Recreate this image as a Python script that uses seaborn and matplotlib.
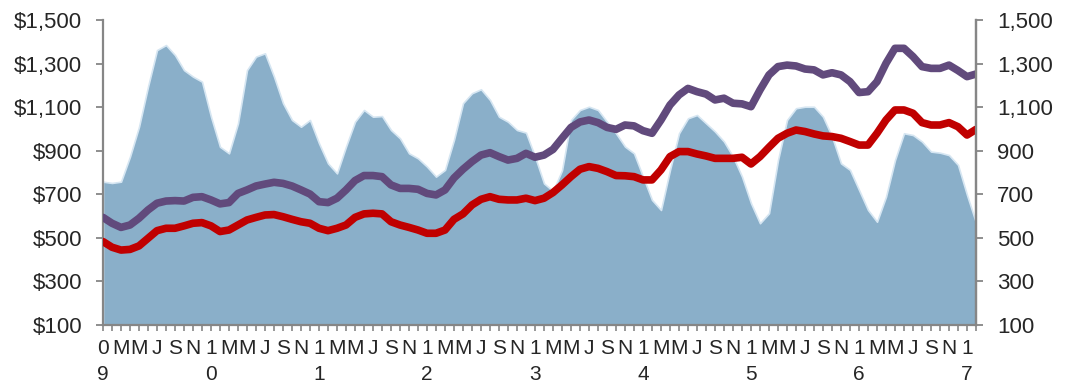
import seaborn as sns
import matplotlib.pyplot as plt
from matplotlib import font_manager
import pandas as pd
import numpy as np

# monthly data, Jan 2009 .. Feb 2017
area_vals = [758, 752, 758, 873, 1010, 1194, 1362, 1385, 1339, 1270, 1240, 1217,
             1056, 918, 888, 1026, 1270, 1332, 1347, 1240, 1118, 1041, 1010, 1041,
             934, 842, 796, 919, 1033, 1087, 1056, 1059, 995, 957, 888, 865,
             827, 781, 812, 950, 1118, 1164, 1182, 1133, 1056, 1033, 995, 983,
             873, 750, 715, 810, 1041, 1087, 1102, 1087, 1033, 980, 919, 888,
             781, 674, 628, 812, 980, 1049, 1064, 1026, 988, 942, 873, 781,
             659, 567, 613, 857, 1041, 1095, 1102, 1102, 1056, 965, 842, 812,
             720, 628, 574, 689, 857, 980, 972, 942, 896, 891, 880, 835,
             697, 570]
purple_vals = [594, 567, 548, 559, 590, 628, 659, 669, 671, 669, 686, 689,
               674, 656, 662, 704, 720, 738, 747, 755, 750, 738, 720, 701,
               666, 662, 682, 720, 763, 786, 786, 781, 743, 727, 727, 723,
               704, 697, 720, 775, 815, 850, 880, 891, 873, 857, 865, 888,
               870, 880, 906, 957, 1007, 1032, 1041, 1029, 1007, 998, 1018, 1014,
               992, 980, 1041, 1110, 1156, 1186, 1171, 1160, 1133, 1141, 1118, 1115,
               1102, 1179, 1248, 1286, 1293, 1289, 1275, 1271, 1248, 1258, 1248, 1217,
               1167, 1171, 1217, 1301, 1370, 1370, 1332, 1286, 1278, 1278, 1293, 1268,
               1240, 1252]
red_vals = [483, 457, 444, 447, 463, 498, 533, 544, 544, 555, 567, 570,
            555, 529, 536, 559, 582, 594, 605, 607, 597, 585, 574, 567,
            544, 533, 544, 559, 594, 610, 613, 610, 574, 559, 548, 536,
            521, 521, 536, 585, 610, 651, 677, 689, 677, 674, 674, 682,
            671, 682, 708, 743, 781, 815, 827, 819, 804, 786, 785, 781,
            766, 766, 812, 873, 896, 896, 885, 876, 865, 865, 865, 870,
            839, 873, 916, 957, 980, 995, 988, 977, 968, 965, 957, 942,
            926, 926, 980, 1041, 1087, 1087, 1072, 1029, 1018, 1018, 1029, 1010,
            972, 998]

years = ["09", "10", "11", "12", "13", "14", "15", "16", "17"]
month_letters = ["M", "M", "J", "S", "N"]
y_ticks = [100, 300, 500, 700, 900, 1100, 1300, 1500]

x_labels = []
for yr in years[:-1]:
    x_labels.append(yr[0] + "\n" + yr[1])
    x_labels += month_letters
x_labels.append(years[-1][0] + "\n" + years[-1][1])

df = pd.DataFrame({"month": np.arange(len(area_vals)),
                   "area": area_vals, "purple": purple_vals, "red": red_vals})

sns.set_style("white")
names = {f.name for f in font_manager.fontManager.ttflist}
plt.rcParams["font.family"] = ["Liberation Sans", "DejaVu Sans"]
narrow = "Liberation Sans Narrow" if "Liberation Sans Narrow" in names else "Liberation Sans"

fig = plt.figure(figsize=(10.74, 3.92), dpi=100)
ax = fig.add_axes([103 / 1074, 1 - 325 / 392, 873 / 1074, 305 / 392])

ax.fill_between(df["month"], 100, df["area"], color="#8aafc9", lw=1.2,
                edgecolor="#d6e6f2", zorder=1)
sns.lineplot(x="month", y="purple", data=df, ax=ax, color="#614a7c", lw=5.5,
             zorder=3, solid_capstyle="round")
sns.lineplot(x="month", y="red", data=df, ax=ax, color="#c00000", lw=5.5,
             zorder=4, solid_capstyle="round")

ax.set_xlim(0, len(area_vals) - 1)
ax.set_ylim(100, 1500)
ax.set_xlabel("")
ax.set_ylabel("")

spine_col = "#868686"
ax.spines["top"].set_visible(False)
for s in ["left", "bottom", "right"]:
    ax.spines[s].set_color(spine_col)
    ax.spines[s].set_linewidth(1.6)

ax.set_yticks(y_ticks)
ax.set_yticklabels([f"${v:,}" for v in y_ticks])
ax.tick_params(axis="y", direction="out", length=5, width=1.3, color=spine_col,
               labelsize=16, pad=10, left=True)

ax.set_xticks(np.arange(0, len(area_vals), 2))
ax.set_xticks(np.arange(0, len(area_vals)), minor=True)
ax.set_xticklabels(x_labels, fontfamily=narrow,
                   fontsize=18 if narrow != "Liberation Sans" else 15,
                   linespacing=1.5)
ax.tick_params(axis="x", which="both", direction="out", length=4, width=1.2,
               color=spine_col, pad=6, bottom=True)

ax2 = ax.twinx()
ax2.set_ylim(100, 1500)
ax2.set_yticks(y_ticks)
ax2.set_yticklabels([f"{v:,}" for v in y_ticks])
for s in ["top", "left", "bottom"]:
    ax2.spines[s].set_visible(False)
ax2.spines["right"].set_color(spine_col)
ax2.spines["right"].set_linewidth(1.6)
ax2.tick_params(axis="y", direction="out", length=5, width=1.3, color=spine_col,
                labelsize=16, pad=10, right=True)

plt.savefig("out.png", dpi=100)
